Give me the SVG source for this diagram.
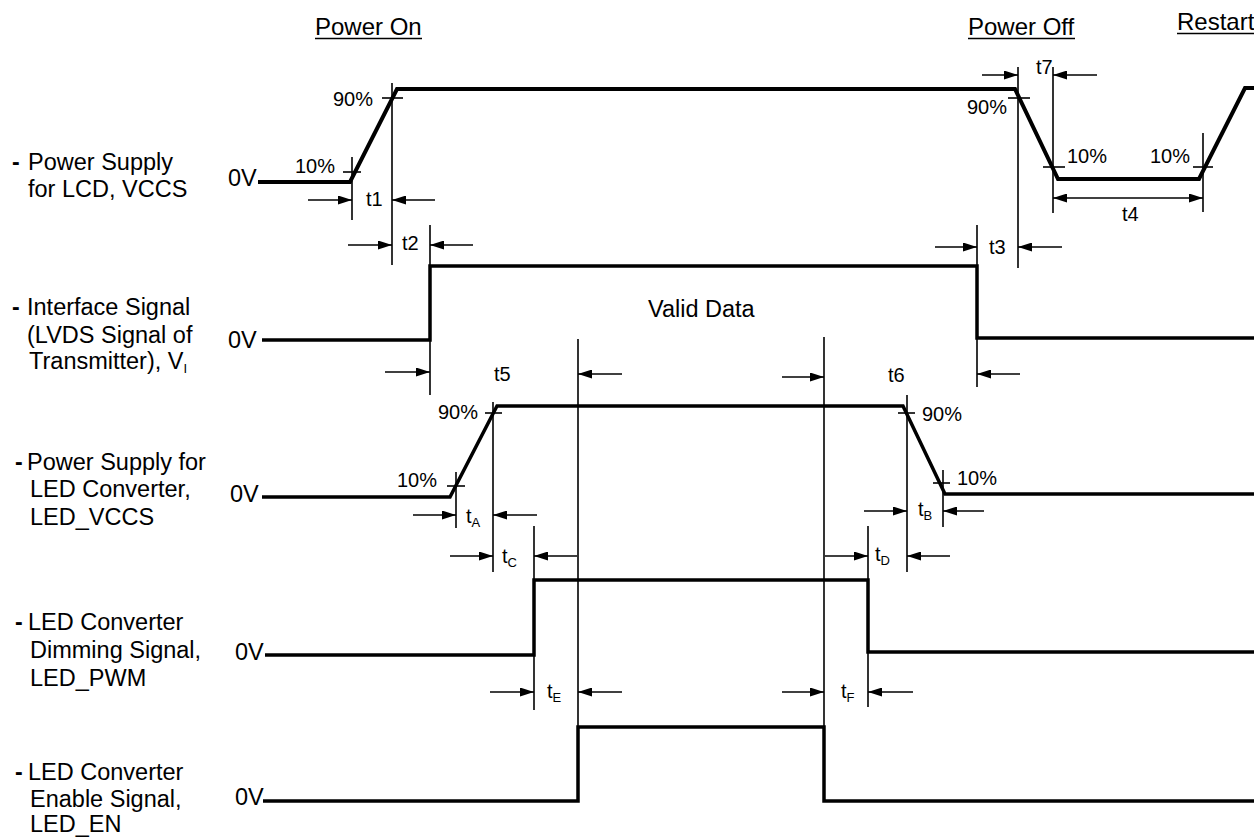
<svg xmlns="http://www.w3.org/2000/svg" width="1254" height="838" viewBox="0 0 1254 838">
<style>
text{font-family:"Liberation Sans",Arial,Helvetica,sans-serif;fill:#000}
.lbl{font-size:23.5px}
.ttl{font-size:24px}
.ann{font-size:20px}
.sub{font-size:13px}
.dash{font-size:23px;font-weight:bold}
.wave{fill:none;stroke:#000;stroke-width:4;stroke-linejoin:miter}
.wave2{fill:none;stroke:#000;stroke-width:3.5;stroke-linejoin:miter}
.thin{fill:none;stroke:#000;stroke-width:1.6}
.arr{fill:none;stroke:#000;stroke-width:1.6;marker-end:url(#ah)}
.arr2{fill:none;stroke:#000;stroke-width:1.6;marker-end:url(#ah);marker-start:url(#ah)}
</style>
<defs>
<marker id="ah" viewBox="0 0 14 9" refX="14" refY="4.5" markerWidth="14" markerHeight="9" markerUnits="userSpaceOnUse" orient="auto-start-reverse">
<path d="M0,0 L14,4.5 L0,9 z" fill="#000"/>
</marker>
</defs>
<rect width="1254" height="838" fill="#fff"/>

<g id="titles">
<text class="ttl" x="315" y="35">Power On</text>
<line class="thin" x1="315" y1="38.5" x2="422" y2="38.5"/>
<text class="ttl" x="968" y="35">Power Off</text>
<line class="thin" x1="968" y1="38.5" x2="1075" y2="38.5"/>
<text class="ttl" x="1177" y="30">Restart</text>
<line class="thin" x1="1177" y1="33.5" x2="1254" y2="33.5"/>
</g>

<g id="row-vccs">
<text class="dash" x="12" y="170">-</text>
<text class="lbl" x="28" y="170">Power Supply</text>
<text class="lbl" x="28" y="197">for LCD, VCCS</text>
<text class="lbl" x="228" y="186">0V</text>
<polyline class="wave" points="258,182 350,182 397,89 1015,89 1058,179 1199,179 1245,88 1256,88"/>
<text class="ann" x="295" y="173">10%</text>
<text class="ann" x="333" y="106">90%</text>
<text class="ann" x="967" y="114">90%</text>
<text class="ann" x="1067" y="163">10%</text>
<text class="ann" x="1150" y="163">10%</text>
</g>

<g id="row-interface">
<text class="dash" x="12" y="315">-</text>
<text class="lbl" x="27" y="315">Interface Signal</text>
<text class="lbl" x="27" y="343">(LVDS Signal of</text>
<text class="lbl" x="29" y="369">Transmitter), V<tspan class="sub" dy="4">I</tspan></text>
<text class="lbl" x="228" y="348">0V</text>
<polyline class="wave2" points="262,340 430,340 430,266 977,266 977,338 1256,338"/>
<text class="lbl" x="648" y="317">Valid Data</text>
</g>

<g id="row-led-vccs">
<text class="dash" x="15" y="470">-</text>
<text class="lbl" x="27" y="470">Power Supply for</text>
<text class="lbl" x="30" y="497">LED Converter,</text>
<text class="lbl" x="30" y="525">LED_VCCS</text>
<text class="lbl" x="230" y="502">0V</text>
<polyline class="wave2" points="262,497 450,497 497,406 903,406 945,494 1256,494"/>
<text class="ann" x="397" y="487">10%</text>
<text class="ann" x="438" y="419">90%</text>
<text class="ann" x="922" y="421">90%</text>
<text class="ann" x="957" y="485">10%</text>
</g>

<g id="row-led-pwm">
<text class="dash" x="15" y="630">-</text>
<text class="lbl" x="28" y="630">LED Converter</text>
<text class="lbl" x="30" y="658">Dimming Signal,</text>
<text class="lbl" x="30" y="686">LED_PWM</text>
<text class="lbl" x="235" y="660">0V</text>
<polyline class="wave2" points="265,655 534,655 534,580 868,580 868,652 1256,652"/>
</g>

<g id="row-led-en">
<text class="dash" x="15" y="780">-</text>
<text class="lbl" x="28" y="780">LED Converter</text>
<text class="lbl" x="30" y="807">Enable Signal,</text>
<text class="lbl" x="30" y="832">LED_EN</text>
<text class="lbl" x="235" y="805">0V</text>
<polyline class="wave2" points="263,801 578,801 578,727 824,727 824,801 1256,801"/>
</g>

<g id="connectors">
<line class="thin" x1="352" y1="157" x2="352" y2="220"/>
<line class="thin" x1="392" y1="83" x2="392" y2="265"/>
<line class="thin" x1="430" y1="225" x2="430" y2="395"/>
<line class="thin" x1="977" y1="225" x2="977" y2="387"/>
<line class="thin" x1="1018" y1="67" x2="1018" y2="268"/>
<line class="thin" x1="1053" y1="67" x2="1053" y2="213"/>
<line class="thin" x1="1203" y1="133" x2="1203" y2="212"/>
<line class="thin" x1="456" y1="472" x2="456" y2="528"/>
<line class="thin" x1="493" y1="402" x2="493" y2="572"/>
<line class="thin" x1="534" y1="526" x2="534" y2="710"/>
<line class="thin" x1="578" y1="339" x2="578" y2="727"/>
<line class="thin" x1="824" y1="337" x2="824" y2="727"/>
<line class="thin" x1="868" y1="526" x2="868" y2="707"/>
<line class="thin" x1="907" y1="395" x2="907" y2="572"/>
<line class="thin" x1="943" y1="470" x2="943" y2="527"/>
<line class="thin" x1="343" y1="172" x2="361" y2="172"/>
<line class="thin" x1="382" y1="98" x2="403" y2="98"/>
<line class="thin" x1="1008" y1="98" x2="1030" y2="98"/>
<line class="thin" x1="1043" y1="167" x2="1065" y2="167"/>
<line class="thin" x1="1193" y1="167" x2="1213" y2="167"/>
<line class="thin" x1="447" y1="486" x2="465" y2="486"/>
<line class="thin" x1="485" y1="413" x2="502" y2="413"/>
<line class="thin" x1="898" y1="413" x2="915" y2="413"/>
<line class="thin" x1="933" y1="483" x2="950" y2="483"/>
<line class="arr" x1="308" y1="200" x2="352" y2="200"/>
<line class="arr" x1="435" y1="200" x2="392" y2="200"/>
<line class="arr" x1="348" y1="245" x2="392" y2="245"/>
<line class="arr" x1="473" y1="245" x2="430" y2="245"/>
<line class="arr" x1="935" y1="247" x2="977" y2="247"/>
<line class="arr" x1="1062" y1="247" x2="1018" y2="247"/>
<line class="arr" x1="982" y1="75" x2="1018" y2="75"/>
<line class="arr" x1="1097" y1="75" x2="1053" y2="75"/>
<line class="arr2" x1="1053" y1="198" x2="1203" y2="198"/>
<line class="arr" x1="385" y1="372" x2="430" y2="372"/>
<line class="arr" x1="622" y1="374" x2="578" y2="374"/>
<line class="arr" x1="782" y1="377" x2="824" y2="377"/>
<line class="arr" x1="1020" y1="374" x2="977" y2="374"/>
<line class="arr" x1="413" y1="515" x2="456" y2="515"/>
<line class="arr" x1="537" y1="515" x2="493" y2="515"/>
<line class="arr" x1="450" y1="556" x2="493" y2="556"/>
<line class="arr" x1="577" y1="556" x2="534" y2="556"/>
<line class="arr" x1="825" y1="556" x2="868" y2="556"/>
<line class="arr" x1="950" y1="556" x2="907" y2="556"/>
<line class="arr" x1="864" y1="511" x2="907" y2="511"/>
<line class="arr" x1="984" y1="511" x2="943" y2="511"/>
<line class="arr" x1="490" y1="692" x2="534" y2="692"/>
<line class="arr" x1="622" y1="692" x2="578" y2="692"/>
<line class="arr" x1="782" y1="692" x2="824" y2="692"/>
<line class="arr" x1="913" y1="692" x2="868" y2="692"/>
<text class="ann" x="366" y="206">t1</text>
<text class="ann" x="402" y="250">t2</text>
<text class="ann" x="989" y="254">t3</text>
<text class="ann" x="1036" y="74">t7</text>
<text class="ann" x="1122" y="221">t4</text>
<text class="ann" x="494" y="381">t5</text>
<text class="ann" x="888" y="382">t6</text>
<text class="ann" x="466" y="523">t<tspan class="sub" dy="4">A</tspan></text>
<text class="ann" x="502" y="563">t<tspan class="sub" dy="4">C</tspan></text>
<text class="ann" x="918" y="516">t<tspan class="sub" dy="4">B</tspan></text>
<text class="ann" x="875" y="561">t<tspan class="sub" dy="4">D</tspan></text>
<text class="ann" x="547" y="698">t<tspan class="sub" dy="4">E</tspan></text>
<text class="ann" x="841" y="698">t<tspan class="sub" dy="4">F</tspan></text>
</g>
</svg>
